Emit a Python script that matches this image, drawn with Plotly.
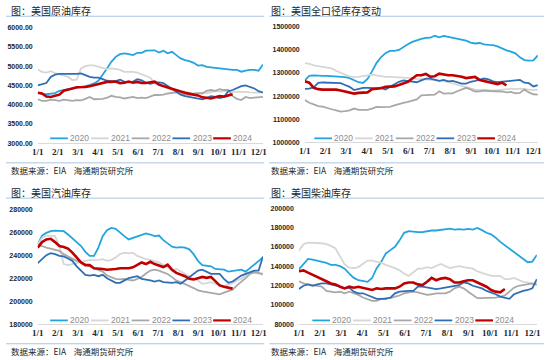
import plotly.graph_objects as go

# ---------------- data (weekly, week index 0..52) ----------------
years = ["2020", "2021", "2022", "2023", "2024"]
month_labels = ["1/1", "2/1", "3/1", "4/1", "5/1", "6/1", "7/1", "8/1", "9/1", "10/1", "11/1", "12/1"]

crude_2020 = [4310, 4280, 4270, 4280, 4300, 4360, 4380, 4400, 4420, 4440,
              4450, 4480, 4510, 4550, 4620, 4770, 4940, 5110, 5240, 5310,
              5330, 5310, 5285, 5345, 5345, 5400, 5410, 5410, 5350, 5400,
              5330, 5370, 5285, 5200, 5155, 5130, 5085, 5015, 5025, 4980,
              4965, 4950, 4940, 4930, 4900, 4900, 4900, 4855, 4880, 4900,
              4900, 4880, 5040]
crude_2021 = [4910, 4850, 4830, 4870, 4820, 4780, 4760, 4720, 4640, 4650,
              4940, 5000, 5020, 5020, 4980, 4950, 4920, 4940, 4930, 4900,
              4850, 4850, 4850, 4830, 4790, 4760, 4700, 4550, 4500, 4450,
              4400, 4370, 4370, 4350, 4340, 4300, 4290, 4300, 4310, 4300,
              4320, 4350, 4340, 4340, 4350, 4330, 4330, 4340, 4330, 4320,
              4320, 4310, 4330]
crude_2022 = [4140, 4100, 4100, 4130, 4120, 4100, 4130, 4110, 4100, 4120,
              4110, 4150, 4200, 4140, 4150, 4150, 4180, 4230, 4200, 4190,
              4160, 4180, 4200, 4170, 4180, 4170, 4220, 4250, 4250, 4260,
              4290, 4300, 4320, 4280, 4260, 4250, 4280, 4300, 4290, 4360,
              4380, 4360, 4400, 4380, 4380, 4220, 4150, 4120, 4200, 4170,
              4180, 4190, 4200]
crude_2023 = [4500, 4540, 4560, 4720, 4780, 4800, 4800, 4790, 4790, 4800,
              4810, 4760, 4720, 4700, 4700, 4660, 4620, 4610, 4610, 4650,
              4600, 4580, 4600, 4660, 4630, 4570, 4540, 4570, 4580, 4560,
              4480, 4420, 4330, 4260, 4220, 4200, 4190, 4160, 4140, 4170,
              4220, 4200, 4170, 4200, 4350, 4380, 4440, 4480, 4500, 4470,
              4420, 4350, 4310]
crude_2024 = [4310, 4290, 4210, 4200, 4230, 4260, 4360, 4400, 4420, 4450,
              4450, 4460, 4480, 4510, 4550, 4570, 4590, 4590, 4600, 4560,
              4570, 4600, 4570, 4590, 4560, 4560, 4580, 4600, 4520, 4480,
              4440, 4400, 4370, 4340, 4310, 4280, 4260, 4240, 4190, 4180,
              4160, 4190, 4220, 4210, 4240, 4270]

total_2020 = [1268000, 1288000, 1290000, 1288000, 1288000, 1288000, 1287000, 1286000, 1285000, 1282000,
              1278000, 1268000, 1260000, 1257000, 1274000, 1307000, 1343000, 1368000, 1386000, 1396000,
              1396000, 1400000, 1414000, 1425000, 1435000, 1443000, 1448000, 1452000, 1453000, 1462000,
              1455000, 1461000, 1457000, 1454000, 1450000, 1446000, 1440000, 1432000, 1428000, 1430000,
              1424000, 1422000, 1421000, 1415000, 1405000, 1398000, 1393000, 1385000, 1368000, 1356000,
              1354000, 1355000, 1376000]
total_2021 = [1343000, 1340000, 1333000, 1330000, 1325000, 1321000, 1320000, 1310000, 1300000, 1293000,
              1285000, 1282000, 1283000, 1285000, 1290000, 1293000, 1290000, 1285000, 1283000, 1283000,
              1282000, 1280000, 1282000, 1280000, 1278000, 1275000, 1275000, 1272000, 1270000, 1268000,
              1268000, 1265000, 1260000, 1255000, 1250000, 1245000, 1238000, 1232000, 1228000, 1226000,
              1228000, 1226000, 1224000, 1226000, 1228000, 1230000, 1232000, 1230000, 1232000, 1230000,
              1228000, 1226000, 1228000]
total_2022 = [1183000, 1171000, 1164000, 1157000, 1154000, 1150000, 1143000, 1138000, 1133000, 1135000,
              1138000, 1146000, 1140000, 1140000, 1140000, 1146000, 1153000, 1152000, 1153000, 1153000,
              1160000, 1167000, 1171000, 1175000, 1180000, 1186000, 1203000, 1205000, 1205000, 1206000,
              1221000, 1211000, 1212000, 1212000, 1221000, 1228000, 1236000, 1229000, 1220000, 1221000,
              1224000, 1222000, 1222000, 1222000, 1220000, 1216000, 1218000, 1212000, 1214000, 1229000,
              1216000, 1208000, 1206000]
total_2023 = [1231000, 1232000, 1238000, 1257000, 1259000, 1258000, 1258000, 1258000, 1256000, 1248000,
              1240000, 1226000, 1232000, 1236000, 1236000, 1234000, 1234000, 1236000, 1229000, 1240000,
              1250000, 1262000, 1268000, 1265000, 1262000, 1260000, 1268000, 1276000, 1276000, 1272000,
              1266000, 1270000, 1264000, 1266000, 1260000, 1254000, 1254000, 1262000, 1266000, 1272000,
              1276000, 1272000, 1264000, 1260000, 1262000, 1264000, 1268000, 1270000, 1270000, 1258000,
              1256000, 1242000, 1248000]
total_2024 = [1264000, 1258000, 1236000, 1230000, 1228000, 1228000, 1230000, 1228000, 1224000, 1220000,
              1214000, 1211000, 1214000, 1215000, 1216000, 1230000, 1232000, 1234000, 1240000, 1240000,
              1242000, 1248000, 1256000, 1262000, 1276000, 1290000, 1290000, 1296000, 1284000, 1286000,
              1297000, 1292000, 1290000, 1290000, 1288000, 1284000, 1278000, 1280000, 1283000, 1270000,
              1266000, 1260000, 1256000, 1252000, 1258000, 1246000]

gas_2020 = [249400, 257100, 259400, 260900, 261400, 261400, 260900, 258000, 255100, 251400,
            248000, 242900, 239400, 239400, 246600, 256600, 261700, 263700, 262900, 259400,
            256600, 253700, 255100, 256000, 258000, 258900, 258000, 256600, 257100, 253100,
            250300, 247400, 246600, 247100, 246600, 245100, 240900, 235100, 231400, 230900,
            230300, 228000, 228000, 227400, 225700, 226300, 226600, 227400, 225700, 228600,
            231400, 235100, 238000]
gas_2021 = [249400, 255000, 257100, 257100, 256600, 248000, 232300, 231400, 232300, 233700,
            234300, 235100, 235700, 235700, 236000, 236600, 235100, 236000, 238000, 240900,
            242300, 241700, 242000, 239400, 238000, 236600, 236000, 235100, 233700, 231400,
            229400, 226600, 228000, 226000, 223700, 221700, 219400, 218000, 215100, 215700,
            216600, 215100, 214300, 213100, 214300, 215700, 218000, 219400, 222300, 224600,
            225100, 223700, 222900]
gas_2022 = [248600, 248000, 246600, 245700, 245100, 243700, 240900, 238900, 236600, 235100,
            233700, 232300, 230300, 228600, 227400, 225700, 222300, 220900, 219400, 219000,
            219400, 218600, 218000, 219400, 221000, 224000, 226600, 227400, 226600, 225100,
            223700, 220900, 218000, 216600, 215100, 213100, 211400, 209400, 208600, 208000,
            207400, 206600, 206000, 207400, 208600, 210000, 213700, 216600, 220000, 223700,
            225100, 224600, 223700]
gas_2023 = [233100, 236600, 240000, 241700, 240900, 239400, 238900, 237100, 235100, 230300,
            226600, 222900, 222300, 222900, 221700, 222900, 220000, 218000, 216000, 216000,
            218000, 220000, 220900, 221700, 219400, 218900, 218000, 217100, 218000, 216600,
            216000, 216000, 216600, 215100, 218000, 220900, 223700, 226600, 227400, 225700,
            223700, 223700, 223700, 219400, 216000, 217100, 219400, 222300, 223700, 225100,
            226600, 226600, 238900]
gas_2024 = [246600, 251400, 253700, 254300, 251400, 248000, 247100, 245700, 242300, 238000,
            233700, 231400, 231400, 228600, 228600, 228000, 227400, 227400, 228000, 228600,
            228600, 228600, 229400, 231400, 233700, 232300, 234300, 232300, 231000, 229700,
            231700, 227400, 224600, 223100, 221700, 219400, 218900, 220000, 221100, 220300,
            221100, 217400, 213700, 212600, 211700, 210900]

diesel_2020 = [136800, 142500, 147600, 146900, 145900, 144900, 143500, 141500, 141500, 140200,
               137500, 132400, 128000, 125600, 124600, 123900, 127900, 138000, 144800, 153300,
               156700, 160100, 166800, 174600, 176300, 175700, 175300, 175300, 176300, 177000,
               177000, 177700, 178700, 179000, 178000, 178400, 178000, 178700, 178000, 179700,
               177400, 174700, 173000, 169600, 165200, 161800, 157700, 155000, 151700, 147600,
               144200, 144900, 151700]
diesel_2021 = [156000, 162800, 164500, 164500, 164500, 163800, 162800, 161100, 158400, 150000,
               142000, 138500, 138100, 139200, 142500, 145900, 145900, 144900, 143500, 141500,
               140200, 138100, 135800, 132400, 130000, 133400, 137500, 137500, 139200, 138100,
               140200, 142500, 140200, 138100, 139200, 140200, 139200, 138100, 137500, 134800,
               133400, 131400, 130000, 130000, 130000, 126700, 126700, 128000, 125600, 123900,
               123300, 122300, 120600]
diesel_2022 = [124600, 122300, 121300, 120600, 119900, 118900, 114500, 113800, 113100, 113800,
               112100, 113800, 112100, 110400, 107700, 106400, 104300, 104300, 106400, 107100,
               107100, 108700, 109800, 112100, 113100, 113800, 113100, 112100, 110400, 111100,
               112100, 112100, 112100, 113800, 117200, 118900, 117200, 113800, 110400, 107100,
               107100, 107100, 107700, 107700, 108700, 109800, 113800, 117900, 119900, 120600,
               121300, 122300, 121300]
diesel_2023 = [116500, 119900, 121300, 119900, 121300, 122300, 122300, 121300, 120600, 118900,
               117200, 117900, 113800, 112100, 112100, 110400, 108700, 106400, 106400, 106400,
               107700, 112100, 113800, 114500, 114500, 114500, 118900, 118900, 117900, 117200,
               116500, 117200, 117900, 118900, 119900, 120600, 123300, 122300, 119900, 118900,
               117200, 114500, 113100, 111100, 108700, 107700, 106400, 111100, 113100, 114500,
               115500, 117200, 126700]
diesel_2024 = [134800, 135800, 133400, 131400, 129000, 126700, 124600, 122300, 121300, 118900,
               117200, 118900, 117900, 118900, 117900, 116500, 115500, 117200, 116500, 117200,
               117200, 117200, 118900, 122300, 123300, 123300, 121300, 120600, 124000, 128000,
               125600, 127300, 128000, 126700, 123300, 123300, 124600, 125600, 125600, 123300,
               121300, 118900, 115500, 113800, 113100, 116500]

source_text = "数据来源：EIA    海通期货研究所"

# ---------------- styling ----------------
W, H = 550, 360
colors = ["#22A5DE", "#D6D6D6", "#A8A8A8", "#2F6EB5", "#C00000"]
widths = [1.8, 1.8, 1.8, 1.8, 2.6]
WEEKS_PER_MONTH = 4.64
SEP = "#A9C6E4"


def fx(px):
    return px / W


def fy(py):
    return 1 - py / H


panels = [
    dict(title="图：美国原油库存", data=[crude_2020, crude_2021, crude_2022, crude_2023, crude_2024],
         yr=[3000, 6000], dtick=500, fmt=".2f", xpx=(32.3, 261.7), ypx=(24, 142),
         tx=3, ty=7, line_x=(0, 263), top_line=12.5, bot_line=162, src_y=169.5, leg=(45, 137)),
    dict(title="图：美国全口径库存变动", data=[total_2020, total_2021, total_2022, total_2023, total_2024],
         yr=[1000000, 1500000], dtick=100000, fmt="d", xpx=(304.3, 541.7), ypx=(23.3, 141),
         tx=268, ty=7, line_x=(268, 548), top_line=12.5, bot_line=162, src_y=169.5, leg=(314, 137)),
    dict(title="图：美国汽油库存", data=[gas_2020, gas_2021, gas_2022, gas_2023, gas_2024],
         yr=[180000, 280000], dtick=20000, fmt="d", xpx=(32.3, 261.7), ypx=(209.3, 326.5),
         tx=3, ty=192, line_x=(0, 263), top_line=198, bot_line=346.5, src_y=354, leg=(45, 322.7)),
    dict(title="图：美国柴油库存", data=[diesel_2020, diesel_2021, diesel_2022, diesel_2023, diesel_2024],
         yr=[80000, 200000], dtick=20000, fmt="d", xpx=(298.3, 540.7), ypx=(208.3, 326.7),
         tx=268, ty=192, line_x=(268, 548), top_line=198, bot_line=346.5, src_y=354, leg=(312, 322.7)),
]

fig = go.Figure()
shapes = []
annotations = []
layout_axes = {}

for i, p in enumerate(panels):
    n = i + 1
    xa = "x" if n == 1 else f"x{n}"
    ya = "y" if n == 1 else f"y{n}"
    for name, series, col, w in zip(years, p["data"], colors, widths):
        fig.add_trace(go.Scatter(
            x=list(range(len(series))), y=series, mode="lines", name=name,
            line=dict(color=col, width=w), xaxis=xa, yaxis=ya, showlegend=False,
        ))
    layout_axes["xaxis" if n == 1 else f"xaxis{n}"] = dict(
        domain=[fx(p["xpx"][0]), fx(p["xpx"][1])], anchor=ya, range=[0, 52],
        tickmode="array", tickvals=[m * WEEKS_PER_MONTH for m in range(len(month_labels))],
        ticktext=month_labels, showgrid=False, zeroline=False,
        showline=True, linecolor="#D9D9D9", linewidth=1, ticks="",
        tickfont=dict(family="Liberation Serif", size=9, color="#262626", weight="bold"),
    )
    layout_axes["yaxis" if n == 1 else f"yaxis{n}"] = dict(
        domain=[fy(p["ypx"][1]), fy(p["ypx"][0])], anchor=xa, range=p["yr"],
        dtick=p["dtick"], tick0=p["yr"][0], tickformat=p["fmt"], showgrid=False,
        zeroline=False, showline=False, ticks="", ticklabelstandoff=4,
        tickfont=dict(family="Liberation Sans", size=7, color="#262626", weight="bold"),
    )
    # title
    annotations.append(dict(text=p["title"], x=fx(p["tx"]), y=fy(p["ty"]), xref="paper", yref="paper",
                            xanchor="left", yanchor="middle", showarrow=False,
                            font=dict(family="Noto Sans CJK SC", size=10, color="#262626")))
    # source
    annotations.append(dict(text=source_text, x=fx(p["tx"]), y=fy(p["src_y"]), xref="paper", yref="paper",
                            xanchor="left", yanchor="middle", showarrow=False,
                            font=dict(family="Noto Sans CJK SC", size=8.5, color="#262626")))
    for ly in (p["top_line"], p["bot_line"]):
        shapes.append(dict(type="line", xref="paper", yref="paper",
                           x0=fx(p["line_x"][0]), x1=fx(p["line_x"][1]), y0=fy(ly), y1=fy(ly),
                           line=dict(color=SEP, width=1)))
    # legend (custom, one row)
    lx0, lyp = p["leg"]
    for k, (name, col, w) in enumerate(zip(years, colors, widths)):
        sx = lx0 + k * 41.5
        shapes.append(dict(type="line", xref="paper", yref="paper",
                           x0=fx(sx), x1=fx(sx + 18), y0=fy(lyp), y1=fy(lyp),
                           line=dict(color=col, width=min(w, 2.2))))
        annotations.append(dict(text=name, x=fx(sx + 18.5), y=fy(lyp), xref="paper", yref="paper",
                                xanchor="left", yanchor="middle", showarrow=False,
                                font=dict(family="Liberation Sans", size=8.5, color="#8C8C8C")))

fig.update_layout(
    width=W, height=H, margin=dict(l=0, r=0, t=0, b=0),
    paper_bgcolor="white", plot_bgcolor="white",
    shapes=shapes, annotations=annotations, showlegend=False,
    **layout_axes,
)

fig.write_html("out.html",
               config={"displayModeBar": False, "staticPlot": True},
               post_script="document.body.style.margin='0px';document.body.style.overflow='hidden';")
